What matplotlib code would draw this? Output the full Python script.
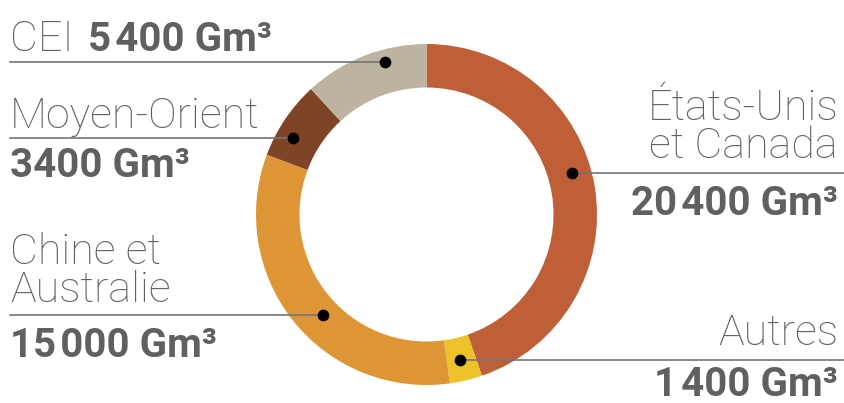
import numpy as np
import matplotlib.pyplot as plt

# data (Gm3), clockwise from top
regions = ["États-Unis\net Canada", "Autres", "Chine et\nAustralie", "Moyen-Orient", "CEI"]
values = [20400, 1400, 15000, 3400, 5400]
value_labels = ["20\u200a400 Gm³", "1\u200a400 Gm³", "15\u200a000 Gm³", "3400 Gm³", "5\u200a400 Gm³"]
colors = ["#BF5F37", "#EDC12A", "#DE9536", "#7E4427", "#BDB3A1"]

W, H = 844, 403
CX, CY = 426.5, H - 214.5
R_OUT, R_IN = 170.5, 127.0
GREY = "#606060"
LINE = "#747474"
FONT = "Roboto"
NAME_SIZE = 31
VAL_SIZE = 29

fig = plt.figure(figsize=(W / 100, H / 100), dpi=100)
ax = fig.add_axes([0, 0, 1, 1])
ax.pie(values, colors=colors, startangle=90, counterclock=False,
       radius=R_OUT, center=(CX, CY),
       wedgeprops=dict(width=R_OUT - R_IN, linewidth=0))
ax.set_xlim(0, W)
ax.set_ylim(0, H)
ax.set_aspect("equal")
ax.axis("off")

# dot angle (deg) / radius on the ring
dots = [(15.9, 151.3), (283.0, 149.3), (224.2, 144.3), (150.2, 153.9), (105.2, 158.0)]

def py(y):
    return H - y

for ang, r in dots:
    a = np.radians(ang)
    dx, dy = CX + r * np.cos(a), CY + r * np.sin(a)
    if dx > CX:
        ax.plot([dx, W], [dy, dy], color=LINE, lw=1.2, zorder=3)
    else:
        ax.plot([10, dx], [dy, dy], color=LINE, lw=1.2, zorder=3)
    ax.scatter([dx], [dy], s=55, color="black", zorder=4)

def name(x, y, s, ha):
    # y = baseline of the last line (px from top)
    ax.text(x, py(y), s, ha=ha, va="baseline", fontsize=NAME_SIZE,
            fontweight="light", color=GREY, family=FONT, linespacing=0.92)

def val(x, y, s, ha):
    ax.text(x, py(y), s, ha=ha, va="baseline", fontsize=VAL_SIZE,
            fontweight="bold", color=GREY, family=FONT)

# right side labels
name(838, 158, regions[0], "right")
val(838, 215, value_labels[0], "right")

name(838, 345, regions[1], "right")
val(838, 396, value_labels[1], "right")

# left side labels
name(10, 302, regions[2], "left")
val(10, 357, value_labels[2], "left")

name(10, 128, regions[3], "left")
val(10, 177, value_labels[3], "left")

name(10, 51, regions[4], "left")
val(88, 51, value_labels[4], "left")

fig.savefig("out.png", dpi=100, facecolor="white")
